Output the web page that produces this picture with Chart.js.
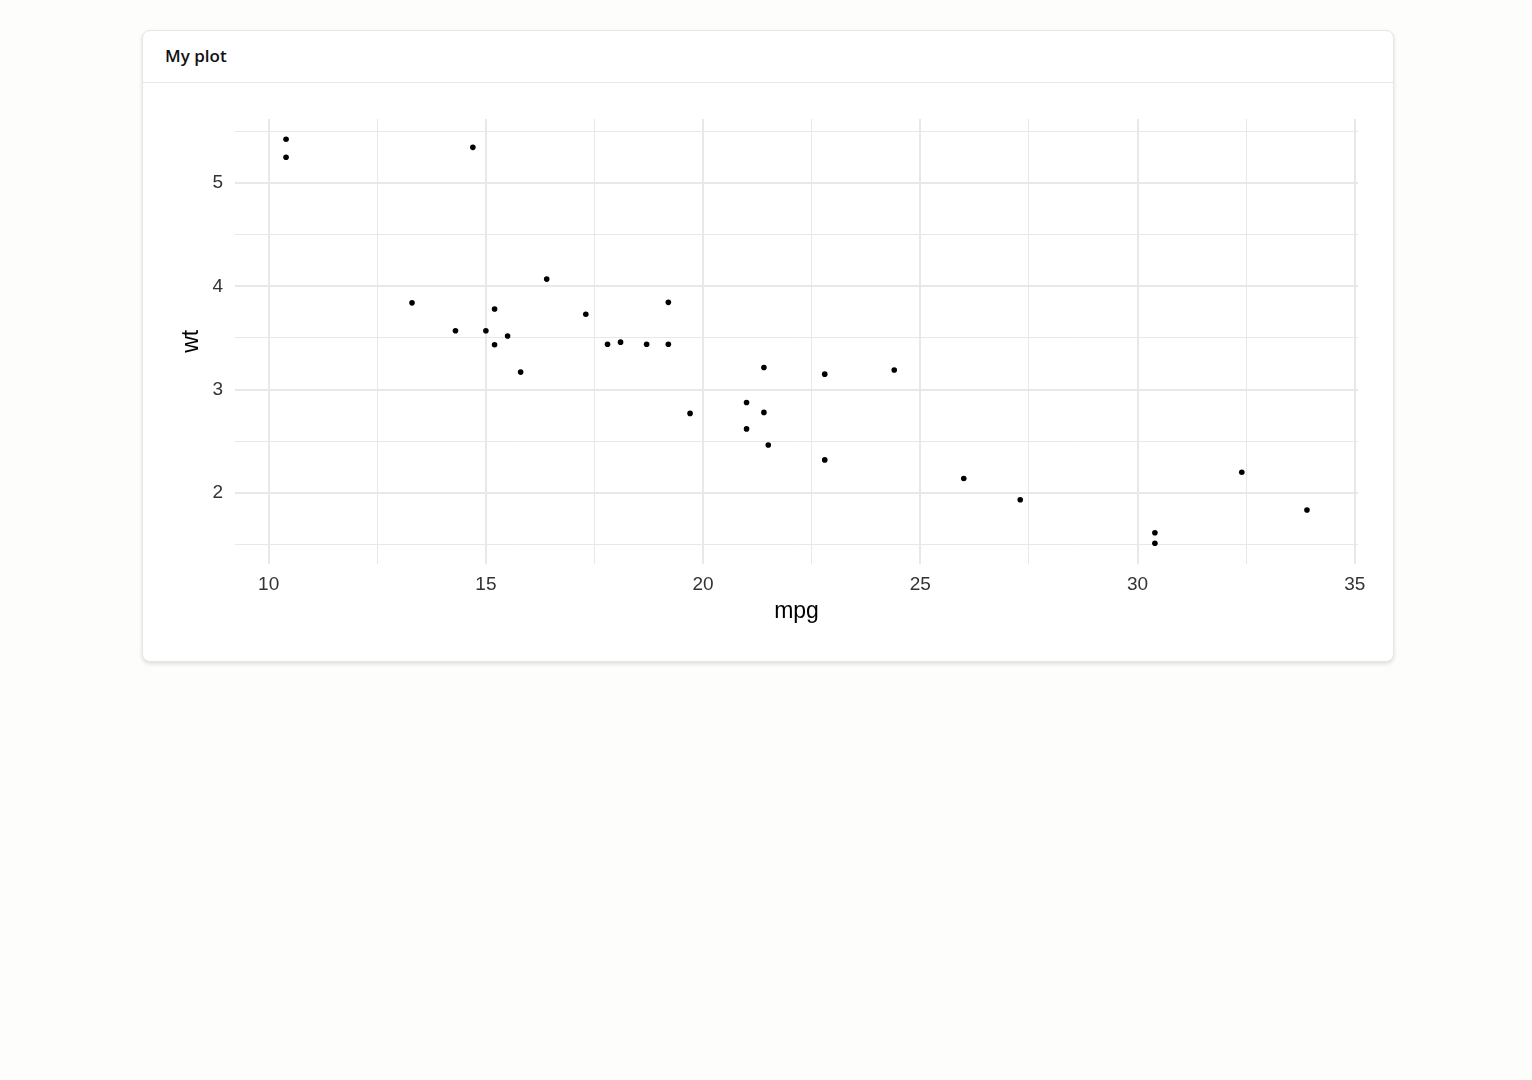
<!DOCTYPE html>
<html><head><meta charset="utf-8">
<script src="https://cdn.jsdelivr.net/npm/chart.js@4/dist/chart.umd.min.js"></script>
<style>
html,body{margin:0;padding:0;background:#fdfdfc;width:1532px;height:1080px;overflow:hidden;}
.card{position:absolute;left:142px;top:30px;width:1250px;height:630px;background:#fff;border:1px solid #e6e6e6;border-radius:8px;box-shadow:0 2px 4px rgba(0,0,0,0.12);}
.hdr{height:51px;border-bottom:1px solid #e8e8e8;font-family:"Open Sans",sans-serif;font-weight:600;font-size:17px;color:#111;line-height:50px;padding-left:22px;}
.wrap{position:absolute;left:0;top:52px;width:1250px;height:578px;}
</style></head><body>
<div class="card"><div class="hdr">My plot</div><div class="wrap"><canvas id="c"></canvas></div></div>
<script>
const mpg = [21.0,21.0,22.8,21.4,18.7,18.1,14.3,24.4,22.8,19.2,17.8,16.4,17.3,15.2,10.4,10.4,14.7,32.4,30.4,33.9,21.5,15.5,15.2,13.3,19.2,27.3,26.0,30.4,15.8,19.7,15.0,21.4];
const wt = [2.620,2.875,2.320,3.215,3.440,3.460,3.570,3.190,3.150,3.440,3.440,4.070,3.730,3.780,5.250,5.424,5.345,2.200,1.615,1.835,2.465,3.520,3.435,3.840,3.845,1.935,2.140,1.513,3.170,2.770,3.570,2.780];
const xTicks = [10,12.5,15,17.5,20,22.5,25,27.5,30,32.5,35];
const yTicks = [1.5,2,2.5,3,3.5,4,4.5,5,5.5];
const xLabel = 'mpg', yLabel = 'wt';

const pts = mpg.map((v,i)=>({x:v,y:wt[i]}));
const tickFont = {family:'"Liberation Sans", Arial, sans-serif', size:19};
const titleFont = {family:'"Liberation Sans", Arial, sans-serif', size:23};
new Chart(document.getElementById('c'), {
  type:'scatter',
  data:{datasets:[{data:pts, backgroundColor:'#000', borderColor:'#000', pointRadius:2.8, pointHoverRadius:2.8, borderWidth:0}]},
  options:{
    responsive:true, maintainAspectRatio:false, animation:false,
    plugins:{legend:{display:false}, tooltip:{enabled:false}},
    layout:{padding:{left:35,right:35,top:36,bottom:36}},
    scales:{
      x:{type:'linear', min:9.225, max:35.075,
        afterBuildTicks:s=>{s.ticks = xTicks.map(v=>({value:v}));},
        afterFit:s=>{s.height=61.5;},
        grid:{color:'#e8e8e8', lineWidth:c=> (c.tick && c.tick.value%5===0)?2:1, drawTicks:false},
        border:{display:false},
        ticks:{autoSkip:false, maxRotation:0, padding:10, color:'#333', font:tickFont,
          callback:v=> v%5===0 ? String(v) : ''},
        title:{display:true, text:xLabel, color:'#000', font:titleFont, padding:{top:0,bottom:0}}
      },
      y:{type:'linear', min:1.3175, max:5.6195,
        afterBuildTicks:s=>{s.ticks = yTicks.map(v=>({value:v}));},
        afterFit:s=>{s.width=57;},
        grid:{color:'#e8e8e8', lineWidth:c=> (c.tick && Number.isInteger(c.tick.value))?2:1, drawTicks:false},
        border:{display:false},
        ticks:{autoSkip:false, padding:12, color:'#333', font:tickFont,
          callback:v=> Number.isInteger(v) ? String(v) : ''},
        title:{display:true, text:yLabel, color:'#000', font:titleFont, padding:{top:0,bottom:0}}
      }
    }
  }
});
</script></body></html>
